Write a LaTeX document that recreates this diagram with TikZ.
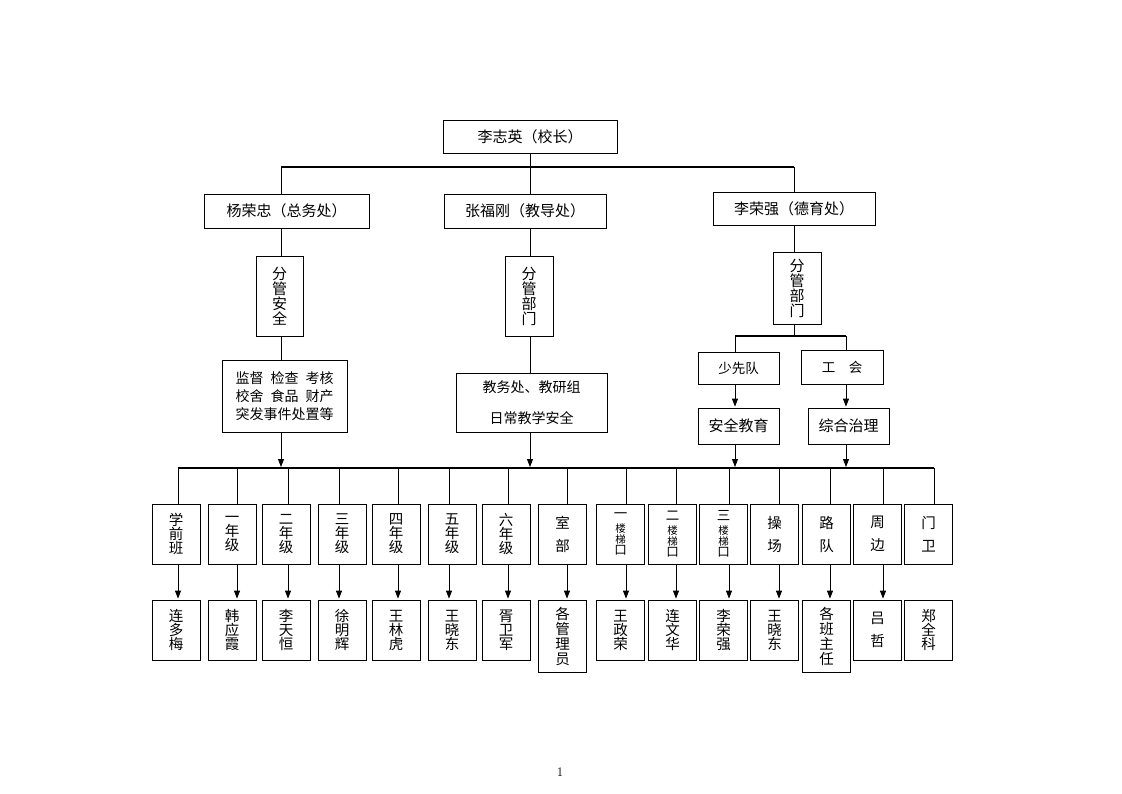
\documentclass[tikz,border=0pt]{standalone}
\usepackage{fontspec}
\newfontfamily\cjk{Noto Sans CJK SC}
\usetikzlibrary{arrows.meta}
\begin{document}
\begin{tikzpicture}[x=1pt, y=-1pt]
      \tikzstyle{box}=[draw, line width=0.8pt, inner sep=0pt, align=center, font=\cjk\fontsize{15}{15}\selectfont]
      \tikzstyle{col}=[box, minimum width=48pt, minimum height=60pt, font=\cjk\fontsize{14.5}{14}\selectfont]
      \tikzstyle{wide}=[col, font=\cjk\fontsize{14.5}{23}\selectfont]
      \tikzstyle{tall}=[col, minimum height=72pt, font=\cjk\fontsize{14.5}{15}\selectfont]
      \tikzstyle{stair}=[col, font=\cjk\fontsize{10.5}{11}\selectfont]
      \tikzstyle{link}=[line width=0.8pt]
      \tikzstyle{bar}=[line width=2.4pt]
      \tikzstyle{arrow}=[line width=0.8pt, shorten >=1pt, -{Triangle[length=8pt, width=6pt]}]
      \useasboundingbox (0,0) rectangle (1122,793);

      % heads
      \node[box, minimum width=174pt, minimum height=33pt] (head) at (530,136.5) {李志英（校长）};
      \node[box, minimum width=165pt, minimum height=34pt] (zong) at (286.5,211) {杨荣忠（总务处）};
      \node[box, minimum width=162pt, minimum height=34pt] (jiao) at (525,211) {张福刚（教导处）};
      \node[box, minimum width=162pt, minimum height=33pt] (de) at (794,208.5) {李荣强（德育处）};

      % departments
      \node[box, minimum width=47pt, minimum height=80pt] (an) at (279.5,296) {分\\管\\安\\全};
      \node[box, minimum width=48pt, minimum height=80pt] (jb) at (529,296) {分\\管\\部\\门};
      \node[box, minimum width=48pt, minimum height=72pt] (db) at (797,288) {分\\管\\部\\门};
      \node[box, minimum width=125pt, minimum height=72pt, font=\cjk\fontsize{14}{18}\selectfont] (jian) at (284.5,396)
        {监督\hspace{.5em}检查\hspace{.5em}考核\\校舍\hspace{.5em}食品\hspace{.5em}财产\\突发事件处置等};
      \node[box, minimum width=151pt, minimum height=59pt, font=\cjk\fontsize{14}{31}\selectfont] (jw) at (531.5,402.5)
        {教务处、教研组\\日常教学安全};
      \node[box, minimum width=81pt, minimum height=32pt, font=\cjk\fontsize{13.5}{15}\selectfont] (sxd) at (738.5,368) {少先队};
      \node[box, minimum width=82pt, minimum height=34pt, font=\cjk\fontsize{13.5}{15}\selectfont] (gh) at (842,367) {工\hspace{1em}会};
      \node[box, minimum width=81pt, minimum height=36pt] (aqjy) at (738.5,426) {安全教育};
      \node[box, minimum width=81pt, minimum height=36pt] (zhzl) at (848.5,426) {综合治理};

      % posts
      \node[col] (pre) at (176,534) {学\\前\\班};
      \node[col] (g1) at (232,534) {一\\年\\级};
      \node[col] (g2) at (286,534) {二\\年\\级};
      \node[col] (g3) at (342,534) {三\\年\\级};
      \node[col] (g4) at (396,534) {四\\年\\级};
      \node[col] (g5) at (452,534) {五\\年\\级};
      \node[col] (g6) at (506,534) {六\\年\\级};
      \node[wide] (shi) at (562.5,534) {室\\部};
      \node[stair] (l1) at (620.5,534) {{\fontsize{13.5}{13}\selectfont 一}\\[3pt]楼\\梯\\{\fontsize{12.5}{12}\selectfont 口}};
      \node[stair] (l2) at (672.5,534) {{\fontsize{13.5}{13}\selectfont 二}\\[3pt]楼\\梯\\{\fontsize{12.5}{12}\selectfont 口}};
      \node[stair] (l3) at (723.5,534) {{\fontsize{13.5}{13}\selectfont 三}\\[3pt]楼\\梯\\{\fontsize{12.5}{12}\selectfont 口}};
      \node[wide] (cao) at (774.5,534) {操\\场};
      \node[wide] (lu) at (826.5,534) {路\\队};
      \node[wide] (zhou) at (877.5,534) {周\\边};
      \node[wide] (men) at (928.5,534) {门\\卫};

      % people
      \node[col] (pre-p) at (176,630) {连\\多\\梅};
      \node[col] (g1-p) at (232,630) {韩\\应\\霞};
      \node[col] (g2-p) at (286,630) {李\\天\\恒};
      \node[col] (g3-p) at (342,630) {徐\\明\\辉};
      \node[col] (g4-p) at (396,630) {王\\林\\虎};
      \node[col] (g5-p) at (452,630) {王\\晓\\东};
      \node[col] (g6-p) at (506,630) {胥\\卫\\军};
      \node[tall] (shi-p) at (562.5,636) {各\\管\\理\\员};
      \node[col] (l1-p) at (620.5,630) {王\\政\\荣};
      \node[col] (l2-p) at (672.5,630) {连\\文\\华};
      \node[col] (l3-p) at (723.5,630) {李\\荣\\强};
      \node[col] (cao-p) at (774.5,630) {王\\晓\\东};
      \node[tall] (lu-p) at (826.5,636) {各\\班\\主\\任};
      \node[wide] (zhou-p) at (877.5,630) {吕\\哲};
      \node[col] (men-p) at (928.5,630) {郑\\全\\科};

      \node[font=\fontsize{13}{13}\selectfont] (page) at (560,772) {1};

      % connectors
      \coordinate (t1) at (281,167);
      \coordinate (t2) at (794,167);
      \coordinate (s1) at (735,336);
      \coordinate (s2) at (846,336);
      \draw[bar] (t1) -- (t2);
      \draw[link] (t1) -- (t1 |- zong.north);
      \draw[link] (t2) -- (t2 |- de.north);
      \draw[link] (head.south) -- (head.south |- jiao.north);
      \draw[link] (t1 |- zong.south) -- (t1 |- an.north);
      \draw[link] (t1 |- an.south) -- (t1 |- jian.north);
      \draw[link] (head.south |- jiao.south) -- (head.south |- jb.north);
      \draw[link] (head.south |- jb.south) -- (head.south |- jw.north);
      \draw[link] (t2 |- de.south) -- (t2 |- db.north);
      \draw[link] (t2 |- db.south) -- (t2 |- s1);
      \draw[bar] (s1) -- (s2);
      \draw[link] (s1) -- (s1 |- sxd.north);
      \draw[link] (s2) -- (s2 |- gh.north);
      \draw[arrow] (s1 |- sxd.south) -- (s1 |- aqjy.north);
      \draw[arrow] (s2 |- gh.south) -- (s2 |- zhzl.north);

      \foreach \n/\x in {pre/178, g1/237, g2/288, g3/339, g4/398, g5/449, g6/508, shi/567,
                         l1/626, l2/676, l3/729, cao/779, lu/830, zhou/883, men/934} {%
        \coordinate (\n-b) at (\x,468);
      }
      \draw[bar] (pre-b) -- (men-b);
      \draw[arrow] (t1 |- jian.south) -- (t1 |- pre-b);
      \draw[arrow] (head.south |- jw.south) -- (head.south |- pre-b);
      \draw[arrow] (s1 |- aqjy.south) -- (s1 |- pre-b);
      \draw[arrow] (s2 |- zhzl.south) -- (s2 |- pre-b);

      \foreach \n in {pre, g1, g2, g3, g4, g5, g6, shi, l1, l2, l3, cao, lu, zhou, men} {%
        \draw[link] (\n-b) -- (\n-b |- \n.north);
      }
      \foreach \n in {pre, g1, g2, g3, g4, g5, g6, shi, l1, l2, l3, cao, lu, zhou} {%
        \draw[arrow] (\n-b |- \n.south) -- (\n-b |- \n-p.north);
      }
    \end{tikzpicture}
\end{document}
